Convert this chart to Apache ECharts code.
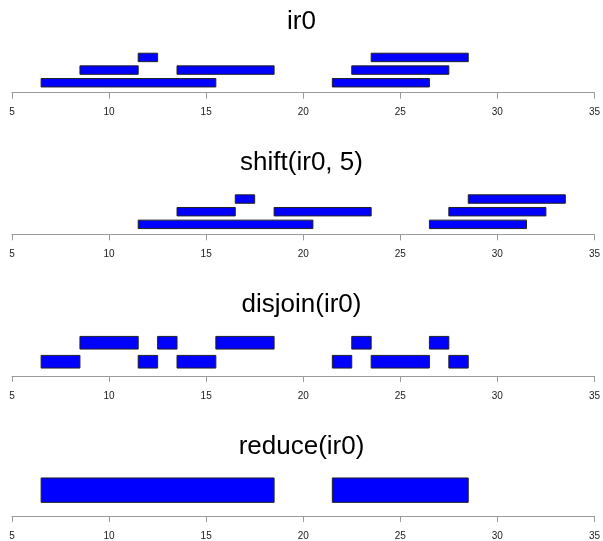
<!DOCTYPE html>
<html>
<head>
<meta charset="utf-8">
<script src="https://cdn.jsdelivr.net/npm/echarts@6/dist/echarts.min.js"></script>
<style>
html,body{margin:0;padding:0;background:#fff;}
#c{width:603px;height:541px;}
</style>
</head>
<body>
<div id="c"></div>
<script>
// Panel titles
var titles = ['ir0', 'shift(ir0, 5)', 'disjoin(ir0)', 'reduce(ir0)'];
// X axis ticks
var xTicks = [5, 10, 15, 20, 25, 30, 35];
// ir0
var ir0Start = [7, 9, 12, 14, 22, 23, 24];
var ir0End   = [15, 11, 12, 18, 26, 27, 28];
var ir0Bin   = [1, 2, 3, 2, 1, 2, 3];
// shift(ir0, 5)
var shiftStart = [12, 14, 17, 19, 27, 28, 29];
var shiftEnd   = [20, 16, 17, 23, 31, 32, 33];
var shiftBin   = [1, 2, 3, 2, 1, 2, 3];
// disjoin(ir0)
var disjoinStart = [7, 9, 12, 13, 14, 16, 22, 23, 24, 27, 28];
var disjoinEnd   = [8, 11, 12, 13, 15, 18, 22, 23, 26, 27, 28];
var disjoinBin   = [1, 2, 1, 2, 1, 2, 1, 2, 1, 2, 1];
// reduce(ir0)
var reduceStart = [7, 22];
var reduceEnd   = [18, 28];
var reduceBin   = [1, 1];

var panels = [
  [ir0Start, ir0End, ir0Bin],
  [shiftStart, shiftEnd, shiftBin],
  [disjoinStart, disjoinEnd, disjoinBin],
  [reduceStart, reduceEnd, reduceBin]
];

var axisY0 = 92.7, step = 141.6, plotH = 41;
var grids = [], xAxes = [], yAxes = [], series = [], titleArr = [];
panels.forEach(function (p, i) {
  var axisY = axisY0 + step * i;
  var maxBin = Math.max.apply(null, p[2]);
  var ymax = maxBin * 1.5;
  grids.push({left: 12, right: 7.2, top: axisY - plotH, height: plotH});
  xAxes.push({
    type: 'value', gridIndex: i, min: xTicks[0], max: xTicks[xTicks.length - 1], interval: 5,
    axisLine: {show: true, onZero: false, lineStyle: {color: '#9a9a9a', width: 1}},
    axisTick: {show: true, length: 6, lineStyle: {color: '#9a9a9a', width: 1}},
    axisLabel: {show: true, margin: 15, fontSize: 10, color: '#222', fontFamily: 'Liberation Sans, Arial, sans-serif',
      showMinLabel: true, showMaxLabel: true},
    splitLine: {show: false}
  });
  yAxes.push({type: 'value', gridIndex: i, min: -0.04 * ymax, max: 1.04 * ymax, show: false});
  var data = p[0].map(function (s, k) { return [s, p[1][k], p[2][k]]; });
  series.push({
    type: 'custom', xAxisIndex: i, yAxisIndex: i, data: data,
    encode: {x: [0, 1], y: 2},
    renderItem: function (params, api) {
      var tl = api.coord([api.value(0) - 0.5, api.value(2) * 1.5]);
      var br = api.coord([api.value(1) + 0.5, api.value(2) * 1.5 - 1]);
      return {
        type: 'rect',
        shape: {x: tl[0], y: tl[1], width: br[0] - tl[0], height: br[1] - tl[1]},
        style: {fill: '#0000ff', stroke: '#222', lineWidth: 1}
      };
    }
  });
  titleArr.push({
    text: titles[i], left: 'center', top: axisY - 89,
    textStyle: {fontSize: 26, fontWeight: 'normal', color: '#000', fontFamily: 'Liberation Sans, Arial, sans-serif', lineHeight: 26}
  });
});

var chart = echarts.init(document.getElementById('c'));
chart.setOption({
  animation: false,
  backgroundColor: '#fff',
  title: titleArr,
  grid: grids,
  xAxis: xAxes,
  yAxis: yAxes,
  series: series
});
</script>
</body>
</html>
